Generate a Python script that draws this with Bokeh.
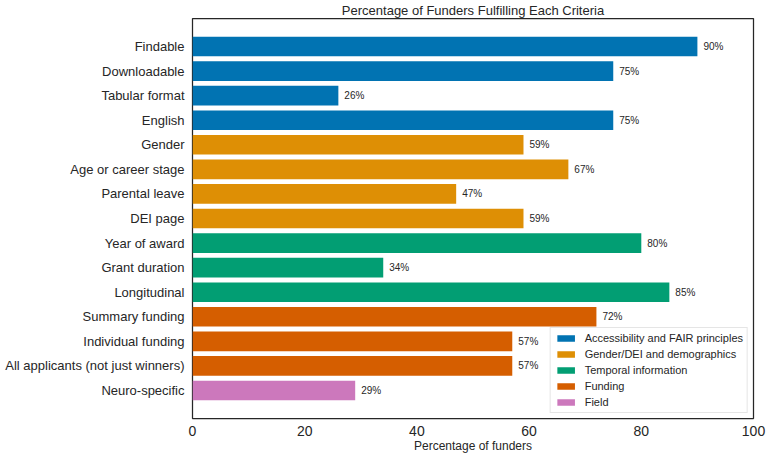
from bokeh.plotting import figure
from bokeh.models import (ColumnDataSource, FactorRange, Range1d, Legend,
                          LegendItem, SingleIntervalTicker)
from bokeh.embed import file_html
from bokeh.resources import INLINE

# Criteria (top to bottom), share of funders meeting each, and their group
criteria = [
    "Findable", "Downloadable", "Tabular format", "English",
    "Gender", "Age or career stage", "Parental leave", "DEI page",
    "Year of award", "Grant duration", "Longitudinal",
    "Summary funding", "Individual funding", "All applicants (not just winners)",
    "Neuro-specific",
]
percent = [90, 75, 26, 75, 59, 67, 47, 59, 80, 34, 85, 72, 57, 57, 29]
group = [
    "Accessibility and FAIR principles", "Accessibility and FAIR principles",
    "Accessibility and FAIR principles", "Accessibility and FAIR principles",
    "Gender/DEI and demographics", "Gender/DEI and demographics",
    "Gender/DEI and demographics", "Gender/DEI and demographics",
    "Temporal information", "Temporal information", "Temporal information",
    "Funding", "Funding", "Funding",
    "Field",
]
groups = ["Accessibility and FAIR principles", "Gender/DEI and demographics",
          "Temporal information", "Funding", "Field"]
group_colors = ["#0173B2", "#DE8F05", "#029E73", "#D55E00", "#CC78BC"]

FONT = "Liberation Sans"
INK = "#262626"

p = figure(
    width=767, height=457,
    y_range=FactorRange(factors=criteria[::-1], range_padding=1.28 / 15),
    x_range=Range1d(0, 100),
    output_backend="svg", toolbar_location=None,
    min_border_left=192, min_border_right=14,
    min_border_top=17, min_border_bottom=39,
    title="Percentage of Funders Fulfilling Each Criteria",
)

p.title.align = "center"
p.title.text_font = FONT
p.title.text_font_size = "13px"
p.title.text_font_style = "normal"
p.title.text_color = INK
p.title.standoff = 1
p.title.offset = 0

items = []
for g, c in zip(groups, group_colors):
    idx = [i for i, gg in enumerate(group) if gg == g]
    src = ColumnDataSource(dict(
        y=[criteria[i] for i in idx],
        x=[percent[i] for i in idx],
    ))
    r = p.hbar(y="y", right="x", left=0, height=0.8, source=src,
               fill_color=c, line_color=None)
    items.append(LegendItem(label=g, renderers=[r]))

# value annotations just past each bar end
lab_src = ColumnDataSource(dict(
    y=criteria, x=percent, text=[f"{v}%" for v in percent],
))
p.text(x="x", y="y", text="text", source=lab_src, x_offset=6,
       text_baseline="middle", text_align="left",
       text_font_size="10px", text_font={"value": FONT}, text_color=INK)

legend = Legend(items=items, location="bottom_right")
legend.margin = 5
legend.padding = 4
legend.spacing = 4
legend.glyph_width = 22
legend.glyph_height = 8
legend.label_standoff = 8
legend.label_text_font = FONT
legend.label_text_font_size = "11px"
legend.label_text_color = INK
legend.border_line_color = "#cccccc"
legend.border_line_width = 1
legend.background_fill_alpha = 0.9
p.add_layout(legend)

p.xgrid.grid_line_color = None
p.ygrid.grid_line_color = None
p.outline_line_color = INK
p.outline_line_width = 1.25
p.background_fill_color = "white"

p.xaxis.ticker = SingleIntervalTicker(interval=20)
p.xaxis.axis_label = "Percentage of funders"
p.xaxis.axis_label_text_font = FONT
p.xaxis.axis_label_text_font_size = "12px"
p.xaxis.axis_label_text_font_style = "normal"
p.xaxis.axis_label_text_color = INK
p.xaxis.axis_label_standoff = 0
p.xaxis.major_label_text_font_size = "14px"
p.xaxis.major_label_standoff = 3

for ax in (p.xaxis, p.yaxis):
    ax.axis_line_color = None
    ax.major_tick_line_color = None
    ax.minor_tick_line_color = None
    ax.major_tick_out = 0
    ax.major_tick_in = 0
    ax.major_label_text_font = FONT
    ax.major_label_text_color = INK

p.yaxis.major_label_text_font_size = "13px"
p.yaxis.major_label_standoff = 8

open("out.html", "w").write(file_html(p, INLINE))
